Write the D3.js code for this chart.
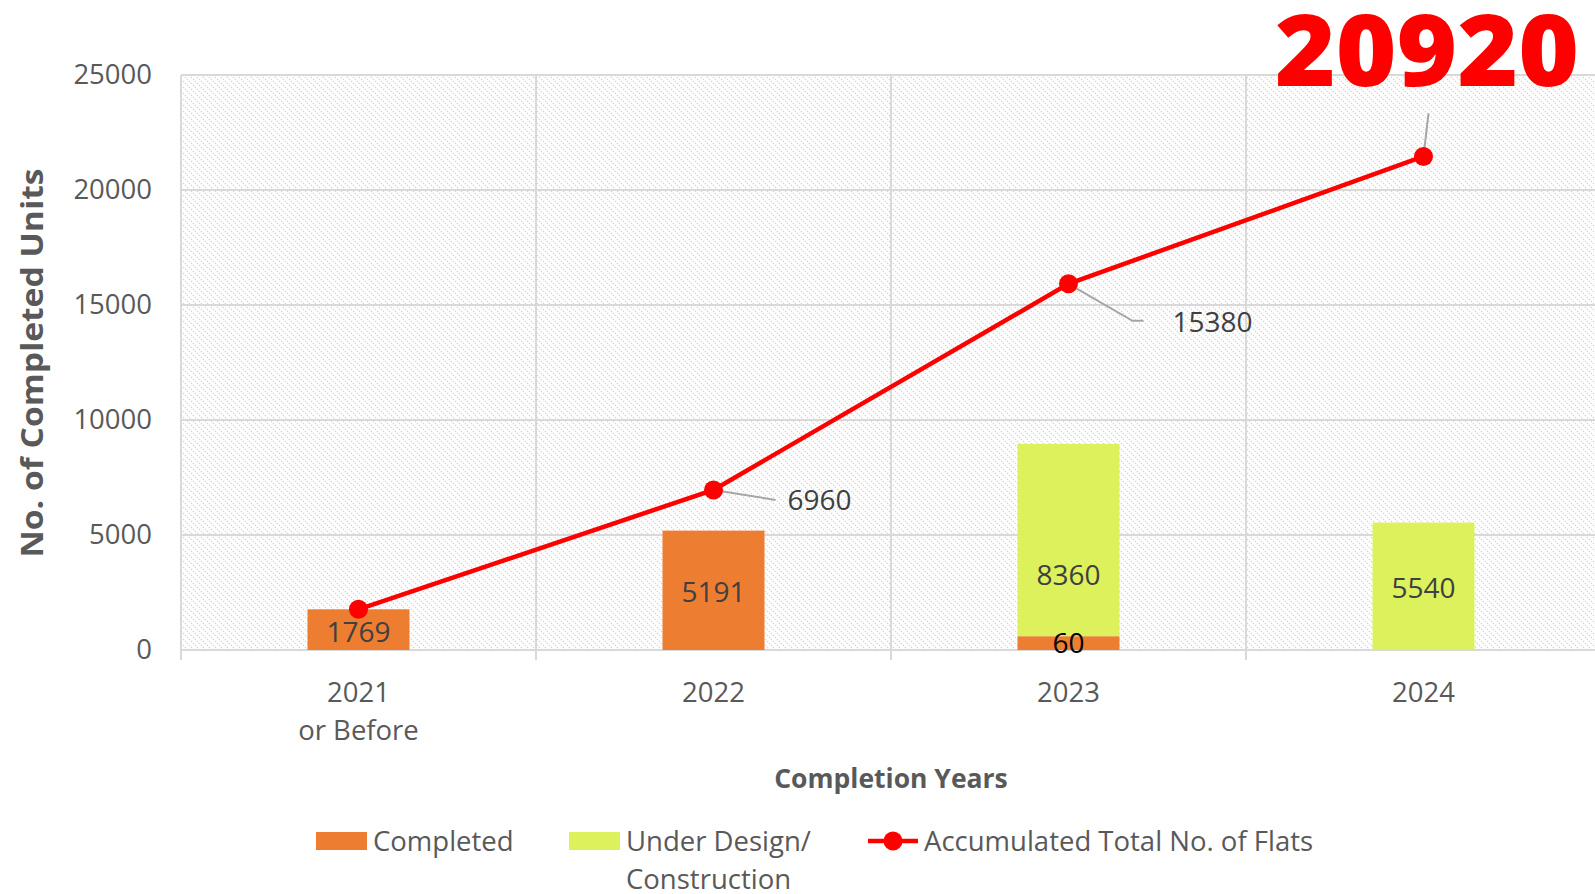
<!DOCTYPE html>
<html>
<head>
<meta charset="utf-8">
<script src="https://cdn.jsdelivr.net/npm/d3@7"></script>
<style>
  body { margin: 0; background: #fff; }
  text { font-family: "Open Sans", sans-serif; }
</style>
</head>
<body>
<svg id="chart" width="1595" height="894"></svg>
<script>
// data
const categories = ['2021\nor Before', '2022', '2023', '2024'];
const completed = [1769, 5191, 600, 0];
const underDesign = [0, 0, 8360, 5540];
const completedLabels = ['1769', '5191', '60', ''];
const underDesignLabels = ['', '', '8360', '5540'];
const accumulated = [1769, 6960, 15920, 21460];
const accumulatedLabels = ['', '6960', '15380', '20920'];
const yTicks = [0, 5000, 10000, 15000, 20000, 25000];

const svg = d3.select('#chart');
const margin = { top: 75, left: 181, bottom: 244 };
const width = 1595;
const height = 894;
const gray = '#d9d9d9';
const textCol = '#595959';

const x = d3.scaleBand()
  .domain(categories)
  .range([margin.left, margin.left + 355 * 4]);

const y = d3.scaleLinear()
  .domain([0, 25000])
  .range([height - margin.bottom, margin.top]);

// hatched plot background
const defs = svg.append('defs');
const pat = defs.append('pattern')
  .attr('id', 'hatch')
  .attr('width', 6).attr('height', 6)
  .attr('patternUnits', 'userSpaceOnUse');
pat.append('path')
  .attr('d', 'M-1,-1 L7,7 M-1,5 L1,7 M5,-1 L7,1')
  .attr('stroke', '#d6d6d6')
  .attr('stroke-width', 1.3)
  .attr('stroke-dasharray', '1.4,1.4');

svg.append('rect')
  .attr('x', x.range()[0]).attr('y', y(25000))
  .attr('width', x.range()[1] - x.range()[0])
  .attr('height', y(0) - y(25000))
  .attr('fill', 'url(#hatch)');

// gridlines
svg.append('g')
  .selectAll('line')
  .data(yTicks)
  .join('line')
  .attr('x1', x.range()[0]).attr('x2', x.range()[1])
  .attr('y1', d => y(d)).attr('y2', d => y(d))
  .attr('stroke', gray).attr('stroke-width', 2);

svg.append('g')
  .selectAll('line')
  .data(categories)
  .join('line')
  .attr('x1', d => x(d)).attr('x2', d => x(d))
  .attr('y1', y(25000)).attr('y2', y(0) + 10)
  .attr('stroke', gray).attr('stroke-width', 2);

// y axis labels
const yAxis = d3.axisLeft(y).tickValues(yTicks).tickFormat(d3.format('d')).tickSize(0).tickPadding(0);
svg.append('g')
  .attr('transform', 'translate(152,0)')
  .call(yAxis)
  .call(g => g.select('.domain').remove())
  .selectAll('text')
  .attr('font-size', 27.5)
  .attr('fill', textCol)
  .attr('font-family', '"Open Sans", sans-serif');

// x axis labels
const xLab = svg.append('g')
  .selectAll('text')
  .data(categories)
  .join('text')
  .attr('text-anchor', 'middle')
  .attr('font-size', 27.5)
  .attr('fill', textCol);
xLab.each(function (d) {
  const t = d3.select(this);
  d.split('\n').forEach((line, i) => {
    t.append('tspan')
      .attr('x', x(d) + x.bandwidth() / 2)
      .attr('y', 702 + i * 38)
      .text(line);
  });
});

// bars
const barW = 102;
const bx = d => x(d) + (x.bandwidth() - barW) / 2;

svg.append('g')
  .selectAll('rect')
  .data(categories)
  .join('rect')
  .attr('x', bx)
  .attr('y', (d, i) => y(completed[i]))
  .attr('width', barW)
  .attr('height', (d, i) => y(0) - y(completed[i]))
  .attr('fill', '#ed7d31');

svg.append('g')
  .selectAll('rect')
  .data(categories)
  .join('rect')
  .attr('x', bx)
  .attr('y', (d, i) => y(completed[i] + underDesign[i]))
  .attr('width', barW)
  .attr('height', (d, i) => y(completed[i]) - y(completed[i] + underDesign[i]))
  .attr('fill', '#dcf15c');

// bar labels
svg.append('g')
  .selectAll('text')
  .data(categories)
  .join('text')
  .attr('x', d => x(d) + x.bandwidth() / 2)
  .attr('y', (d, i) => i === 2 ? y(completed[i] / 2) + 10 : y(completed[i] / 2) + 12)
  .attr('text-anchor', 'middle')
  .attr('font-size', 28)
  .attr('fill', (d, i) => i === 2 ? '#000' : '#404040')
  .text((d, i) => completedLabels[i]);

svg.append('g')
  .selectAll('text')
  .data(categories)
  .join('text')
  .attr('x', d => x(d) + x.bandwidth() / 2)
  .attr('y', (d, i) => {
    const mid = y(completed[i] + underDesign[i] / 2) + 12;
    return i === 2 ? mid + 33 : mid;
  })
  .attr('text-anchor', 'middle')
  .attr('font-size', 28)
  .attr('fill', '#404040')
  .text((d, i) => underDesignLabels[i]);

// accumulated line
const cx = d => x(d) + x.bandwidth() / 2;
const line = d3.line()
  .x(d => cx(d))
  .y((d, i) => y(accumulated[i]));

// leader lines
const leaders = [
  null,
  [[0, 0], [62, 10]],
  [[0, 0], [64, 37], [75, 37]],
  [[0, 0], [5, -43]]
];
svg.append('g')
  .selectAll('path')
  .data(categories)
  .join('path')
  .attr('d', (d, i) => leaders[i] ? d3.line()(leaders[i].map(p => [cx(d) + p[0], y(accumulated[i]) + p[1]])) : null)
  .attr('fill', 'none')
  .attr('stroke', '#a6a6a6')
  .attr('stroke-width', 2);

svg.append('path')
  .datum(categories)
  .attr('d', line)
  .attr('fill', 'none')
  .attr('stroke', '#ff0000')
  .attr('stroke-width', 4.5);

svg.append('g')
  .selectAll('circle')
  .data(categories)
  .join('circle')
  .attr('cx', cx)
  .attr('cy', (d, i) => y(accumulated[i]))
  .attr('r', 9.5)
  .attr('fill', '#ff0000');

// accumulated labels
svg.append('text')
  .attr('x', cx(categories[1]) + 74)
  .attr('y', y(accumulated[1]) + 20)
  .attr('font-size', 28).attr('fill', '#404040')
  .text(accumulatedLabels[1]);
svg.append('text')
  .attr('x', cx(categories[2]) + 104)
  .attr('y', y(accumulated[2]) + 48)
  .attr('font-size', 28).attr('fill', '#404040')
  .text(accumulatedLabels[2]);
svg.append('text')
  .attr('x', 1275)
  .attr('y', 86)
  .attr('font-size', 99)
  .attr('font-weight', 800)
  .attr('fill', '#ff0000')
  .attr('textLength', 304)
  .attr('lengthAdjust', 'spacingAndGlyphs')
  .text(accumulatedLabels[3]);

// axis titles
svg.append('text')
  .attr('transform', 'translate(43,363) rotate(-90)')
  .attr('text-anchor', 'middle')
  .attr('font-size', 30)
  .attr('font-weight', 700)
  .attr('fill', textCol)
  .attr('textLength', 389)
  .attr('lengthAdjust', 'spacingAndGlyphs')
  .text('No. of Completed Units');

svg.append('text')
  .attr('x', 891).attr('y', 788)
  .attr('text-anchor', 'middle')
  .attr('font-size', 26.5)
  .attr('font-weight', 700)
  .attr('fill', textCol)
  .text('Completion Years');

// legend
const leg = svg.append('g').attr('font-size', 27.5).attr('fill', textCol);
leg.append('rect').attr('x', 316).attr('y', 832).attr('width', 51).attr('height', 18).attr('fill', '#ed7d31');
leg.append('text').attr('x', 373).attr('y', 851).text('Completed');
leg.append('rect').attr('x', 569).attr('y', 832).attr('width', 51).attr('height', 18).attr('fill', '#dcf15c');
leg.append('text').attr('x', 626).attr('y', 851).text('Under Design/');
leg.append('text').attr('x', 626).attr('y', 889).text('Construction');
leg.append('line').attr('x1', 868).attr('x2', 918).attr('y1', 841).attr('y2', 841)
  .attr('stroke', '#ff0000').attr('stroke-width', 4.5);
leg.append('circle').attr('cx', 893).attr('cy', 841).attr('r', 9.5).attr('fill', '#ff0000');
leg.append('text').attr('x', 924).attr('y', 851).text('Accumulated Total No. of Flats');
</script>
</body>
</html>
